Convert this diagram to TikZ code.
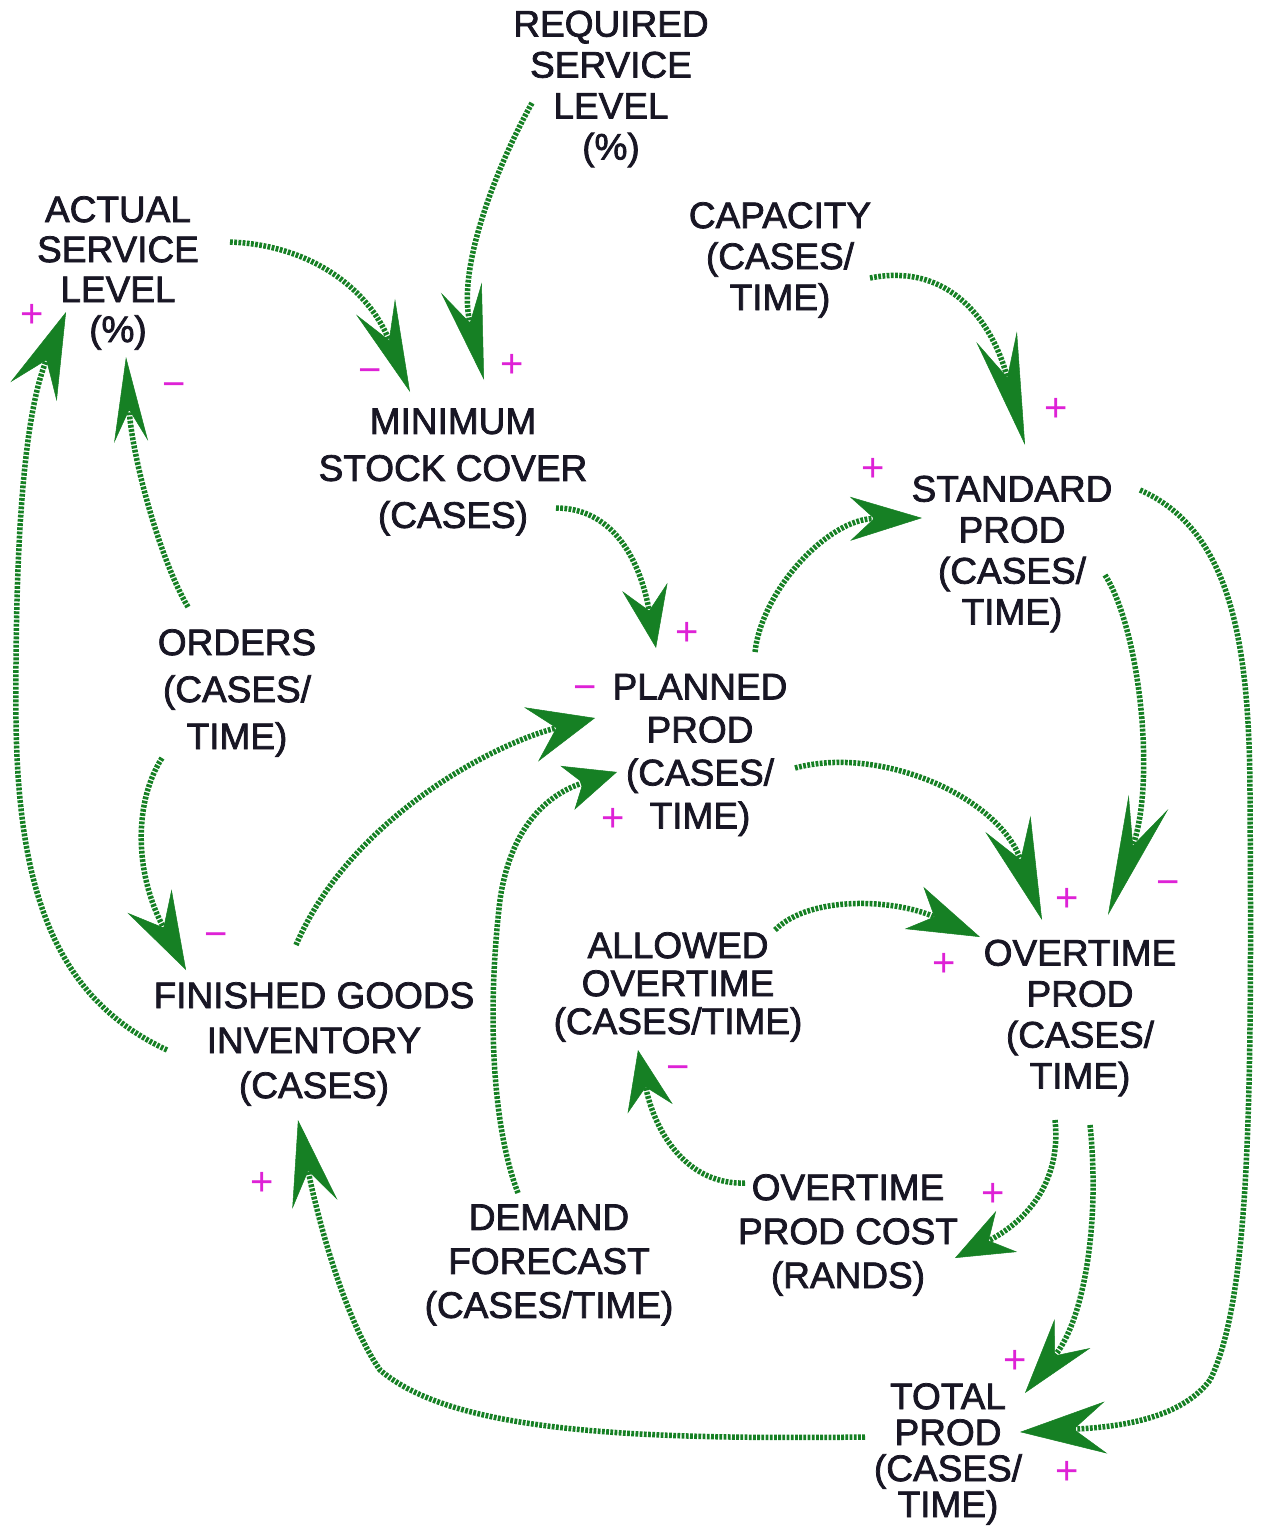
\documentclass[tikz,border=0pt]{standalone}
\usepackage{fontspec}
\setmainfont{Liberation Sans}[BoldFont={Liberation Sans},BoldFeatures={FakeBold=2}]
\usetikzlibrary{arrows.meta}

\definecolor{ink}{RGB}{24,22,36}
\definecolor{linkgreen}{RGB}{22,128,36}
\definecolor{signpink}{RGB}{222,34,214}

\tikzset{
  lab/.style={align=center, text=ink, inner sep=0pt,
    font=\fontsize{37}{#1}\selectfont\bfseries},
  lab/.default=42,
  flow/.style n args={3}{draw=linkgreen, line width=5.5pt,
    dash pattern=on 2.8pt off 1.4pt,
    -{Stealth[length=#1pt, width=#2pt, inset=#3pt, line width=0.5pt, fill=linkgreen]}},
  sgn/.style={text=signpink, inner sep=0pt, font=\fontsize{40}{40}\selectfont},
}

\begin{document}
\begin{tikzpicture}[x=1pt, y=-1pt]
\useasboundingbox[fill=white] (0,0) rectangle (1262,1526);

% variables
\node[lab=41] (req) at (611,89)   {REQUIRED\\SERVICE\\LEVEL\\(\%)};
\node[lab=40] (asl) at (118,273)  {ACTUAL\\SERVICE\\LEVEL\\(\%)};
\node[lab=41] (cap) at (780,260)  {CAPACITY\\(CASES/\\TIME)};
\node[lab=47] (msc) at (453,472)  {MINIMUM\\STOCK COVER\\(CASES)};
\node[lab=41] (std) at (1012,554) {STANDARD\\PROD\\(CASES/\\TIME)};
\node[lab=47] (ord) at (237,693)  {ORDERS\\(CASES/\\TIME)};
\node[lab=43] (pln) at (700,755)  {PLANNED\\PROD\\(CASES/\\TIME)};
\node[lab=38] (alw) at (678,987)  {ALLOWED\\OVERTIME\\(CASES/TIME)};
\node[lab=41] (otp) at (1080,1018){OVERTIME\\PROD\\(CASES/\\TIME)};
\node[lab=45] (fgi) at (314,1044) {FINISHED GOODS\\INVENTORY\\(CASES)};
\node[lab=44] (otc) at (848,1235) {OVERTIME\\PROD COST\\(RANDS)};
\node[lab=44] (dem) at (549,1265) {DEMAND\\FORECAST\\(CASES/TIME)};
\node[lab=36] (tot) at (948,1454) {TOTAL\\PROD\\(CASES/\\TIME)};

% causal links
\draw[flow={95}{42}{36}] ([shift={(-79,14)}]req.center)
  .. controls (500,160) and (456,266) .. ([shift={(31,-92)}]msc.center);
\draw[flow={92}{42}{36}] ([shift={(112,-31)}]asl.center)
  .. controls (310,245) and (368,288) .. ([shift={(-43,-80)}]msc.center);
\draw[flow={112}{42}{42}] ([shift={(90,18)}]cap.center)
  .. controls (950,262) and (993,323) .. ([shift={(13,-109)}]std.center);
\draw[flow={85}{34}{32}] ([shift={(-49,-86)}]ord.center)
  .. controls (160,560) and (132,457) .. ([shift={(8,84)}]asl.center);
\draw[flow={86}{50}{34}] ([shift={(-147,6)}]fgi.center)
  .. controls (60,1000) and (18,900) .. (16,720)
  .. controls (15,560) and (22,420) .. ([shift={(-52,39)}]asl.center);
\draw[flow={62}{46}{24}] ([shift={(103,36)}]msc.center)
  .. controls (610,508) and (639,555) .. ([shift={(-44,-107)}]pln.center);
\draw[flow={72}{44}{24}] ([shift={(55,-103)}]pln.center)
  .. controls (762,590) and (828,519) .. ([shift={(-90,-36)}]std.center);
\draw[flow={78}{50}{30}] ([shift={(-75,65)}]ord.center)
  .. controls (135,800) and (133,870) .. ([shift={(-128,-74)}]fgi.center);
\draw[flow={66}{56}{26}] ([shift={(-18,-99)}]fgi.center)
  .. controls (350,820) and (490,745) .. ([shift={(-105,-37)}]pln.center);
\draw[flow={52}{46}{16}] ([shift={(-31,-72)}]dem.center)
  .. controls (490,1120) and (488,1000) .. (500,900)
  .. controls (510,830) and (545,795) .. ([shift={(-83,17)}]pln.center);
\draw[flow={102}{48}{38}] ([shift={(95,13)}]pln.center)
  .. controls (880,745) and (998,796) .. ([shift={(-38,-98)}]otp.center);
\draw[flow={120}{42}{46}] ([shift={(93,21)}]std.center)
  .. controls (1140,630) and (1156,781) .. ([shift={(28,-103)}]otp.center);
\draw[flow={72}{46}{22}] ([shift={(97,-57)}]alw.center)
  .. controls (810,895) and (894,899) .. ([shift={(-100,-81)}]otp.center);
\draw[flow={60}{46}{22}] ([shift={(-103,-52)}]otc.center)
  .. controls (690,1185) and (656,1137) .. ([shift={(-40,63)}]alw.center);
\draw[flow={58}{46}{20}] ([shift={(-25,102)}]otp.center)
  .. controls (1062,1185) and (1023,1223) .. ([shift={(107,23)}]otc.center);
\draw[flow={76}{46}{28}] ([shift={(10,107)}]otp.center)
  .. controls (1100,1220) and (1085,1318) .. ([shift={(77,-61)}]tot.center);
\draw[flow={86}{52}{32}] ([shift={(128,-64)}]std.center)
  .. controls (1230,530) and (1250,640) .. (1250,800)
  .. controls (1252,1100) and (1250,1300) .. (1210,1380)
  .. controls (1180,1420) and (1116,1427) .. ([shift={(72,-22)}]tot.center);
\draw[flow={86}{46}{34}] ([shift={(-83,-17)}]tot.center)
  .. controls (620,1440) and (450,1430) .. (380,1370)
  .. controls (345,1320) and (318,1220) .. ([shift={(-16,76)}]fgi.center);

% polarities
\node[sgn] (s1)  at (512,366)  {+};
\node[sgn] (s2)  at (370,376)  {−};
\node[sgn] (s3)  at (1056,410) {+};
\node[sgn] (s4)  at (174,390)  {−};
\node[sgn] (s5)  at (32,316)   {+};
\node[sgn] (s6)  at (687,634)  {+};
\node[sgn] (s7)  at (873,470)  {+};
\node[sgn] (s8)  at (216,940)  {−};
\node[sgn] (s9)  at (585,693)  {−};
\node[sgn] (s10) at (613,820)  {+};
\node[sgn] (s11) at (1067,900) {+};
\node[sgn] (s12) at (1168,888) {−};
\node[sgn] (s13) at (944,965)  {+};
\node[sgn] (s14) at (678,1073) {−};
\node[sgn] (s15) at (993,1195) {+};
\node[sgn] (s16) at (1015,1362){+};
\node[sgn] (s17) at (1067,1473){+};
\node[sgn] (s18) at (262,1184) {+};
\end{tikzpicture}
\end{document}
